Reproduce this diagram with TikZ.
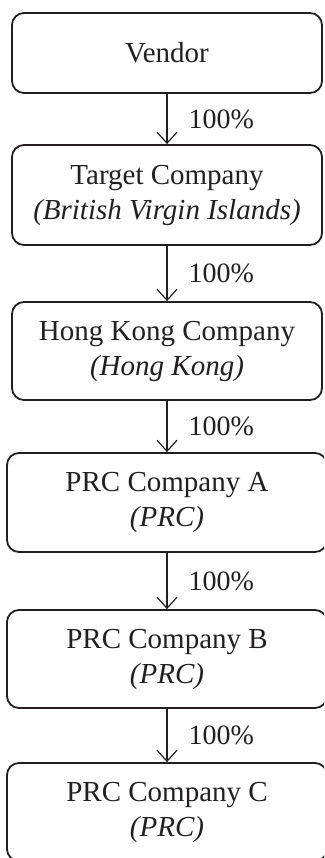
\documentclass[tikz,border=0pt]{standalone}
\usepackage{fontspec}
\setmainfont{Liberation Serif}
\usetikzlibrary{arrows.meta}
\definecolor{ink}{HTML}{231F20}
\tikzset{
    entity/.style={draw=ink, line width=1.8pt, rounded corners=12pt, text=ink,
        align=center, font=\fontsize{29}{35}\selectfont, inner sep=0pt},
    wide/.style={minimum width=310pt},
    wider/.style={minimum width=320pt},
    own/.style={draw=ink, line width=1.2pt,
        -{Straight Barb[length=11pt, width=20pt, line width=1.2pt]}},
    pct/.style={text=ink, font=\fontsize{28}{35}\selectfont, inner sep=0pt,
        anchor=west, xshift=21pt}
}

\begin{document}
\begin{tikzpicture}[x=1pt, y=-1pt]
    % page frame
    \useasboundingbox (0,0) rectangle (324,858);
    \clip (0,0) rectangle (324,858);

    % entities
    \node[entity, wide, minimum height=80pt] (vendor) at (167,53) {Vendor};
    \node[entity, wide, minimum height=100pt] (target) at (167,195)
        {Target Company\\\textit{(British Virgin Islands)}};
    \node[entity, wide, minimum height=98pt] (hk) at (167,351)
        {Hong Kong Company\\\textit{(Hong Kong)}};
    \node[entity, wider, minimum height=99pt] (prca) at (167,502.5)
        {PRC Company A\\\textit{(PRC)}};
    \node[entity, wider, minimum height=98pt] (prcb) at (167,659)
        {PRC Company B\\\textit{(PRC)}};
    \node[entity, wider, minimum height=98pt] (prcc) at (167,812)
        {PRC Company C\\\textit{(PRC)}};

    % ownership
    \foreach \a/\b in {vendor/target, target/hk, hk/prca, prca/prcb, prcb/prcc}
    {
        \draw[own] (\a) -- (\b) node[pct, midway] {100\%};
    }
\end{tikzpicture}
\end{document}
